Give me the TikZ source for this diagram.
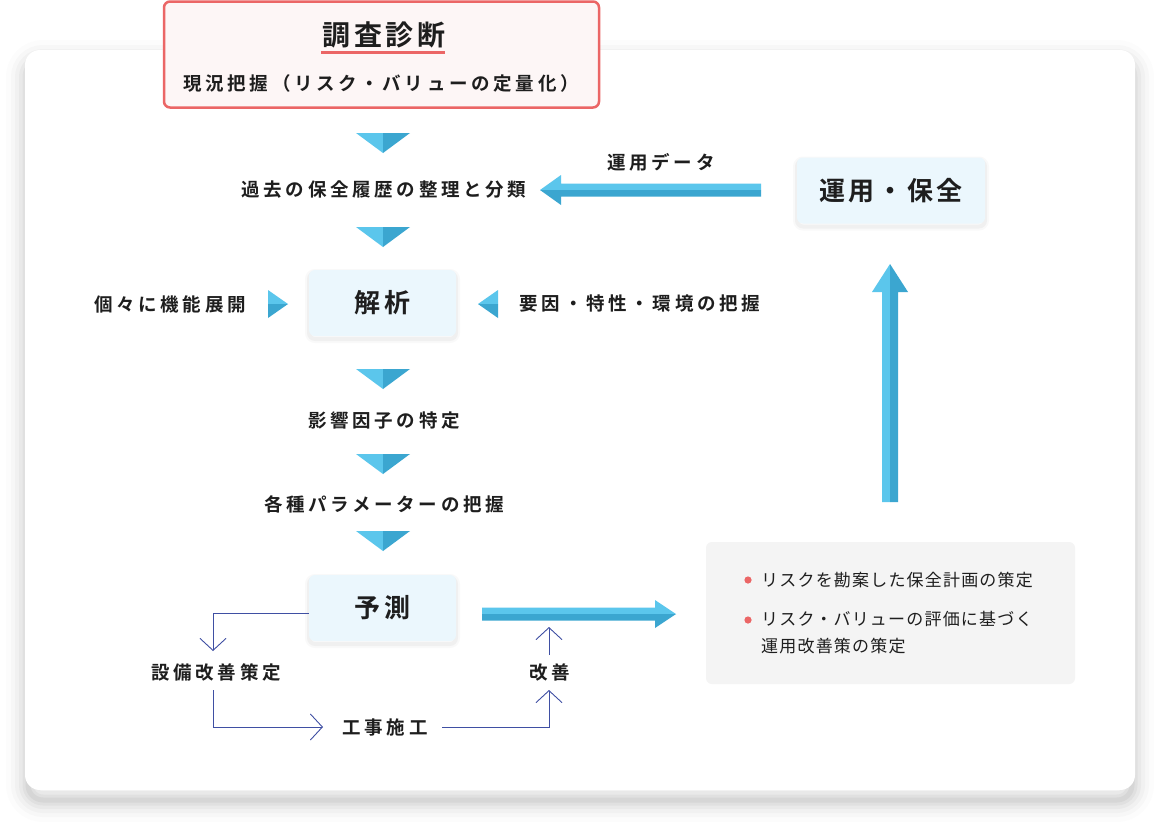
\documentclass[tikz,border=0pt]{standalone}
\usepackage{fontspec}
\setmainfont{Noto Sans CJK JP}[BoldFont={Noto Sans CJK JP Bold}]
\newfontfamily\jpsp{Noto Sans CJK JP Bold}[LetterSpace=20]
\newfontfamily\jpbox{Noto Sans CJK JP Bold}[LetterSpace=12]
\newfontfamily\jpn{Noto Sans CJK JP}[LetterSpace=7]
\usetikzlibrary{arrows.meta,calc}
\definecolor{lb}{HTML}{5BC6EC}
\definecolor{db}{HTML}{3BA6D0}
\definecolor{boxf}{HTML}{EBF7FD}
\definecolor{pinkb}{HTML}{EB6666}
\definecolor{pinkf}{HTML}{FDF6F6}
\definecolor{txt}{HTML}{1E1E1E}
\definecolor{navy}{HTML}{3F4FA3}
\definecolor{greyf}{HTML}{F4F4F4}
\newcommand\dtri[2]{%
  \fill[lb] (#1-27,#2)--(#1,#2)--(#1,#2+20)--cycle;
  \fill[db] (#1,#2)--(#1+27,#2)--(#1,#2+20)--cycle;}
\begin{document}
\begin{tikzpicture}[x=1pt,y=-1pt,
  lbl/.style={font=\jpsp\fontsize{18.5}{22}\selectfont, text=txt, inner sep=2pt},
  box/.style={fill=boxf, rounded corners=6pt, minimum width=147pt, minimum height=66pt,
     font=\jpbox\fontsize{26}{30}\selectfont, text=txt,
     preaction={draw=black, line width=8pt, opacity=0.025, rounded corners=6pt, transform canvas={yshift=-3pt}},
     preaction={draw=black, line width=4pt, opacity=0.035, rounded corners=6pt, transform canvas={yshift=-3pt}}},
  conn/.style={draw=navy, line width=0.9pt, -{Straight Barb[length=12pt,width=26pt,line width=0.9pt]}},
  line/.style={draw=navy, line width=0.9pt}]
\useasboundingbox (0,0) rectangle (1173,830);
\fill[white] (0,0) rectangle (1173,830);
% card shadow
\foreach \w/\o in {44/0.012,34/0.018,26/0.024,18/0.03,11/0.035,5/0.045}
  \draw[line width=\w pt, black, opacity=\o, rounded corners=15pt] (28,62) rectangle (1132,800);
\fill[white, rounded corners=15pt] (25,50) rectangle (1135,790);
% top box
\node[draw=pinkb, line width=2.5pt, fill=pinkf, rounded corners=6pt, minimum width=435pt, minimum height=106pt] (top) at (381.5,54.5) {};
\node[font=\jpbox\fontsize{28}{32}\selectfont, text=txt] (title) at (384,35) {調査診断};
\draw[pinkb, line width=3pt] (321,52)--(445,52);
\node[lbl] (sub) at (381,83) {現況把握（リスク・バリューの定量化）};
% down triangles
\dtri{383}{133}
\dtri{383}{227}
\dtri{383}{369}
\dtri{383}{454}
\dtri{383}{531}
% labels
\node[lbl] (hist) at (384,190) {過去の保全履歴の整理と分類};
\node[lbl] (eik) at (384,421) {影響因子の特定};
\node[lbl] (para) at (384,504) {各種パラメーターの把握};
% boxes
\node[box] (kai) at (382.5,303) {解析};
\node[box] (yos) at (382.5,608) {予測};
\node[box, minimum width=188pt] (unyo) at (891,190.5) {運用・保全};
% side triangles
\fill[lb] (268,290)--(288,304)--(268,304)--cycle;
\fill[db] (268,304)--(288,304)--(268,318)--cycle;
\fill[lb] (498,290)--(478,304)--(498,304)--cycle;
\fill[db] (498,304)--(478,304)--(498,318)--cycle;
\node[lbl] (kiko) at (170,304) {個々に機能展開};
\node[lbl] (yoin) at (640,304) {要因・特性・環境の把握};
% left arrow (運用データ)
\fill[lb] (761,183.5) -- (561,183.5) -- (561,175) -- (540,190) -- (761,190) -- cycle;
\fill[db] (761,190) -- (540,190) -- (561,205) -- (561,196.5) -- (761,196.5) -- cycle;
\node[lbl] (udata) at (661,162) {運用データ};
% up arrow
\fill[lb] (882,502) -- (882,292) -- (872,292) -- (890,264) -- (890,502) -- cycle;
\fill[db] (890,502) -- (890,264) -- (908,292) -- (898,292) -- (898,502) -- cycle;
% right arrow
\fill[lb] (482,607.5) -- (655,607.5) -- (655,600) -- (676,614) -- (482,614) -- cycle;
\fill[db] (482,614) -- (676,614) -- (655,628) -- (655,620.5) -- (482,620.5) -- cycle;
% grey box
\fill[greyf, rounded corners=6pt] (706,542) rectangle (1075,684);
\fill[pinkb] (748,580) circle (3.6);
\fill[pinkb] (748,620) circle (3.6);
\node[anchor=west, font=\jpn\fontsize{17}{27}\selectfont, text=txt, inner sep=0pt] (b1) at (761,580) {リスクを勘案した保全計画の策定};
\node[anchor=north west, align=left, font=\jpn\fontsize{17}{27}\selectfont, text=txt, inner sep=0pt] (b2) at (761,611) {リスク・バリューの評価に基づく\\運用改善策の策定};
% thin loop
\node[lbl] (setsu) at (216,672) {設備改善策定};
\node[lbl] (koji) at (385,727) {工事施工};
\node[lbl] (kaizen) at (550,672) {改善};
\coordinate (p0) at (309,613);
\coordinate (a1) at (213,651);
\coordinate (a2) at (213,690);
\coordinate (a3) at (323,727);
\coordinate (a4) at (442,727);
\coordinate (a5) at (549,690);
\coordinate (a6) at (549,655);
\coordinate (a7) at (549,627);
\draw[conn] (p0) -| (a1);
\draw[conn] (a2) |- (a3);
\draw[conn] (a4) -| (a5);
\draw[conn] (a6) -- (a7);
\end{tikzpicture}
\end{document}
